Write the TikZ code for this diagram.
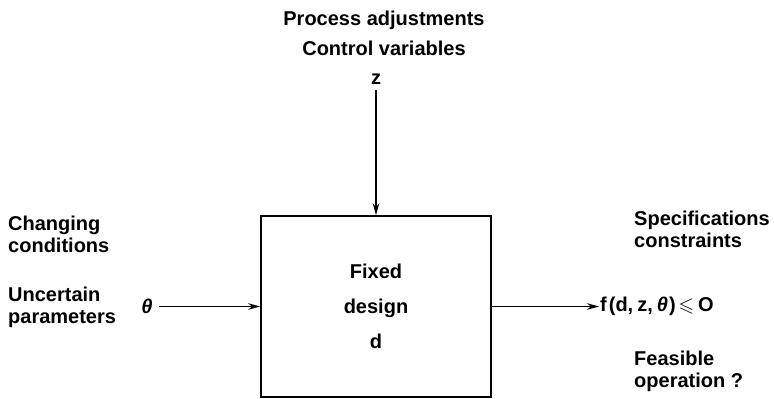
\documentclass[tikz,border=0pt]{standalone}
\usepackage{fontspec}
\usepackage{amssymb}
\setmainfont{Liberation Sans}
\usetikzlibrary{arrows.meta}

\begin{document}
\begin{tikzpicture}[x=1pt, y=1pt,
    lbl/.style={font=\bfseries\fontsize{20}{22}\selectfont, inner sep=1pt},
    flow/.style={line width=1.5pt, -{Stealth[length=12pt, width=6.5pt]}}]
    \useasboundingbox (0,0) rectangle (774,-399);
    % the design block
    \node[draw, line width=1.6pt, minimum width=230pt, minimum height=181pt,
          align=center, font=\bfseries\fontsize{20}{35}\selectfont]
          (design) at (376,-306.5) {Fixed\\design\\d};
    % inputs from above
    \node[lbl, align=center] (adjust) at (384,-33) {Process adjustments\\[8pt]Control variables};
    \node[lbl] (z) at (376,-79) {z};
    \draw[flow, shorten <=5pt] (z.south) -- (design.north);
    % inputs from the left
    \node[lbl, align=left, anchor=west] (changing) at (7,-234) {Changing\\conditions};
    \node[lbl, align=left, anchor=west] (uncertain) at (7,-307.5) {Uncertain\\parameters};
    \node[lbl, font=\bfseries\itshape\fontsize{20}{22}\selectfont] (theta) at (147,-306.5) {θ};
    \draw[flow] ([xshift=5pt]theta.east) -- (design.west);
    % output to the right
    \node[lbl, anchor=west] (constr) at (599,-306.5)
        {f\hspace{2pt}(d,\hspace{4pt}z,\hspace{4pt}\textit{θ}\hspace{1pt})\hspace{3pt}$\leqslant$\hspace{4pt}O};
    \draw[flow] (design.east) -- (constr.west);
    \node[lbl, align=left, anchor=west] (specs) at (633,-229) {Specifications\\constraints};
    \node[lbl, align=left, anchor=west] (feasible) at (633,-371) {Feasible\\operation ?};
\end{tikzpicture}
\end{document}
